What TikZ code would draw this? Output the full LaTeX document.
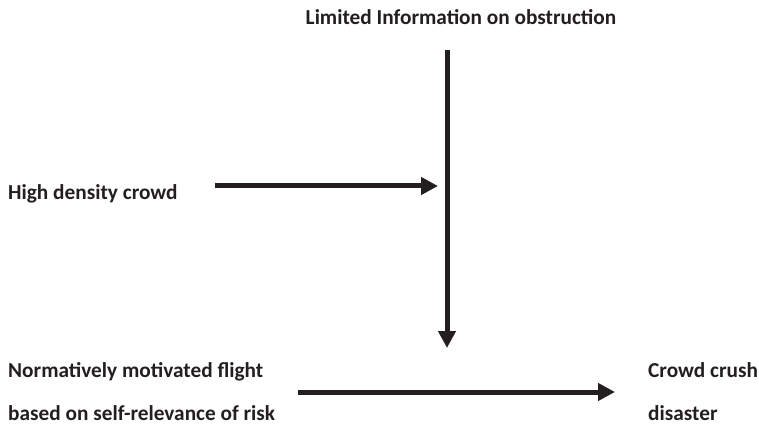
\documentclass[tikz,border=0pt]{standalone}
\usepackage{fontspec}
\setmainfont{Carlito}
\usetikzlibrary{arrows.meta}
\definecolor{ink}{HTML}{231F20}
\begin{document}
\begin{tikzpicture}[x=1pt,y=-1pt,
  lbl/.style={font=\bfseries\fontsize{21.3}{25}\selectfont, text=ink, inner sep=0pt},
  conn/.style={draw=ink, line width=5pt, -{Triangle[length=17pt,width=17pt]}}]
\useasboundingbox (0,0) rectangle (759,427);
\node[lbl, anchor=base] (lim) at (461,25) {Limited Information on obstruction};
\node[lbl, anchor=base west] (hdc) at (8,200) {High density crowd};
\node[lbl, anchor=base west] (nmf) at (8,377) {Normatively motivated flight};
\node[lbl, anchor=base west] (bsr) at (8,420) {based on self-relevance of risk};
\node[lbl, anchor=base west] (ccd) at (648,377) {Crowd crush};
\node[lbl, anchor=base west] (dis) at (648,420) {disaster};
\coordinate (vtop) at (447,50);
\coordinate (vbot) at (447,348);
\coordinate (h1s) at (215,186);
\coordinate (h1e) at (438,186);
\coordinate (h2s) at (298,392);
\coordinate (h2e) at (615,392);
\draw[conn] (vtop) -- (vbot);
\draw[conn] (h1s) -- (h1e);
\draw[conn] (h2s) -- (h2e);
\end{tikzpicture}
\end{document}
